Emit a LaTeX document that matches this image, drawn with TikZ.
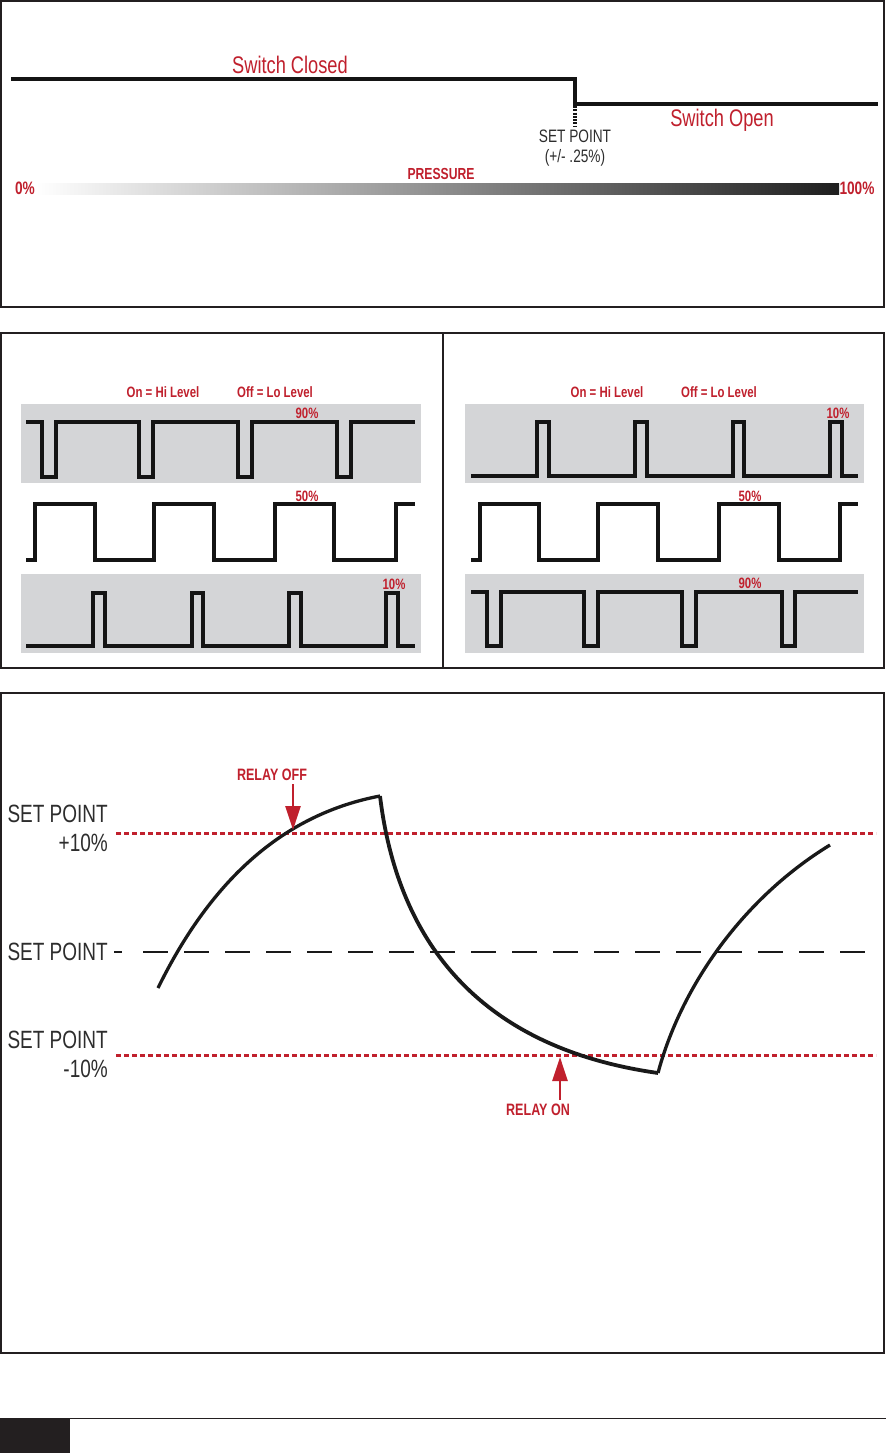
\documentclass[tikz,border=0pt]{standalone}
\usepackage{fontspec}
\newfontfamily\cond[FakeStretch=0.76]{Liberation Sans}
\usetikzlibrary{arrows.meta}
\definecolor{myred}{RGB}{192,32,45}
\definecolor{frame}{RGB}{35,31,32}
\definecolor{boxgray}{RGB}{212,213,215}
\definecolor{txtgray}{RGB}{45,45,45}
\tikzset{
  panel/.style={draw=frame, line width=2pt},
  wave/.style={line width=3.6pt, line join=miter, black!92},
  redlbl/.style={text=myred, font=\cond\bfseries\fontsize{15}{15}\selectfont, inner sep=0pt},
  graylbl/.style={text=txtgray, font=\cond\fontsize{25}{28}\selectfont, inner sep=0pt, align=right},
  reddots/.style={myred, line width=3pt, dash pattern=on 5pt off 3pt},
  blackdash/.style={black!90, line width=2.8pt, dash pattern=on 25pt off 16pt},
  curve/.style={black!90, line width=3.3pt, line join=miter},
  relayarrow/.style={myred, line width=2.6pt, -{Triangle[length=24pt,width=15pt]}}
}
\begin{document}
\begin{tikzpicture}[x=1pt,y=-1pt]
\useasboundingbox (0,0) rectangle (886,1453);
\fill[white] (0,0) rectangle (886,1453);

% ---------- top panel ----------
\draw[panel] (1,1) rectangle (884,307);
\draw[line width=4pt, black!92, line join=miter] (11,79) -- (575,79) -- (575,104) -- (878,104);
\draw[line width=3.5pt, black!92, dash pattern=on 2pt off 1.3pt] (575,106) -- (575,127);
\node[text=myred, font=\cond\fontsize{24}{24}\selectfont, inner sep=0pt] (sc) at (290,65) {Switch Closed};
\node[text=myred, font=\cond\fontsize{24}{24}\selectfont, inner sep=0pt] (so) at (722,120) {Switch Open};
\node[text=txtgray, font=\cond\fontsize{18}{20}\selectfont, inner sep=0pt, align=center] (sp) at (575,148) {SET POINT\\(+/- .25\%)};
\node[redlbl, font=\cond\bfseries\fontsize{16}{16}\selectfont] (pr) at (441,174) {PRESSURE};
\shade[left color=white, right color=black!88] (36,183) rectangle (839,194);
\node[redlbl, font=\cond\bfseries\fontsize{18}{18}\selectfont] (p0) at (25,188) {0\%};
\node[redlbl, font=\cond\bfseries\fontsize{18}{18}\selectfont] (p100) at (857,188) {100\%};

% ---------- middle panel ----------
\draw[panel] (1,333) rectangle (884,668);
\draw[panel] (443,333) -- (443,668);

% left half
\node[redlbl] (lon) at (163,392) {On = Hi Level};
\node[redlbl] (loff) at (275,392) {Off = Lo Level};
\fill[boxgray] (21,404) rectangle (421,483);
\fill[boxgray] (21,574) rectangle (421,653);
\draw[wave] (26,422) -- (42,422) -- (42,477) -- (56,477) -- (56,422) -- (139,422) -- (139,477) -- (153,477) -- (153,422) -- (238,422) -- (238,477) -- (252,477) -- (252,422) -- (337,422) -- (337,477) -- (351,477) -- (351,422) -- (415,422);
\draw[wave] (26,560) -- (35,560) -- (35,504) -- (95,504) -- (95,560) -- (154,560) -- (154,504) -- (214,504) -- (214,560) -- (275,560) -- (275,504) -- (334,504) -- (334,560) -- (396,560) -- (396,504) -- (415,504);
\draw[wave] (26,646) -- (93,646) -- (93,593) -- (105,593) -- (105,646) -- (192,646) -- (192,593) -- (203,593) -- (203,646) -- (289,646) -- (289,593) -- (301,593) -- (301,646) -- (386,646) -- (386,593) -- (398,593) -- (398,646) -- (415,646);
\node[redlbl] (l90) at (307,413) {90\%};
\node[redlbl] (l50) at (307,496) {50\%};
\node[redlbl] (l10) at (394,584) {10\%};

% right half
\node[redlbl] (ron) at (607,392) {On = Hi Level};
\node[redlbl] (roff) at (719,392) {Off = Lo Level};
\fill[boxgray] (465,404) rectangle (864,483);
\fill[boxgray] (465,574) rectangle (864,653);
\draw[wave] (471,476) -- (537,476) -- (537,422) -- (549,422) -- (549,476) -- (635,476) -- (635,422) -- (647,422) -- (647,476) -- (733,476) -- (733,422) -- (744,422) -- (744,476) -- (830,476) -- (830,422) -- (842,422) -- (842,476) -- (858,476);
\draw[wave] (471,560) -- (480,560) -- (480,504) -- (539,504) -- (539,560) -- (598,560) -- (598,504) -- (658,504) -- (658,560) -- (719,560) -- (719,504) -- (779,504) -- (779,560) -- (840,560) -- (840,504) -- (858,504);
\draw[wave] (471,592) -- (487,592) -- (487,646) -- (501,646) -- (501,592) -- (584,592) -- (584,646) -- (598,646) -- (598,592) -- (682,592) -- (682,646) -- (696,646) -- (696,592) -- (782,592) -- (782,646) -- (795,646) -- (795,592) -- (858,592);
\node[redlbl] (r10) at (838,413) {10\%};
\node[redlbl] (r50) at (750,496) {50\%};
\node[redlbl] (r90) at (750,583) {90\%};

% ---------- bottom panel ----------
\draw[panel] (1,693) rectangle (884,1353);
\node[graylbl, anchor=east] (sp1) at (108,814) {SET POINT};
\node[graylbl, anchor=east] (sp1b) at (108,843) {+10\%};
\node[graylbl, anchor=east] (sp2) at (108,952) {SET POINT};
\node[graylbl, anchor=east] (sp3) at (108,1040) {SET POINT};
\node[graylbl, anchor=east] (sp3b) at (108,1069) {-10\%};

\coordinate (hiL) at (116,833);
\coordinate (hiR) at (876,833);
\coordinate (loL) at (116,1055);
\coordinate (loR) at (876,1055);
\draw[reddots] (hiL) -- (hiR);
\draw[reddots] (loL) -- (loR);
\coordinate (midA) at (114,952);
\coordinate (midB) at (122,952);
\coordinate (midL) at (143,952);
\coordinate (midR) at (866,952);
\draw[black!90, line width=2.8pt] (midA) -- (midB);
\draw[blackdash] (midL) -- (midR);

\coordinate (c0) at (158,988);
\coordinate (c1) at (380,796);
\coordinate (c2) at (658,1073);
\coordinate (c3) at (830,845);
\draw[curve] (c0) .. controls (212,878) and (285,814) .. (c1);
\draw[curve, line width=3.8pt] (c1) .. controls (395,920) and (460,1045) .. (c2);
\draw[curve] (c2) .. controls (680,990) and (740,900) .. (c3);

\node[redlbl, font=\cond\bfseries\fontsize{16.5}{16.5}\selectfont] (roffl) at (272,775) {RELAY OFF};
\coordinate (roffs) at (293,784);
\coordinate (roffe) at (293,830);
\draw[relayarrow] (roffs) -- (roffe);
\node[redlbl, font=\cond\bfseries\fontsize{16.5}{16.5}\selectfont] (ronl) at (538,1110) {RELAY ON};
\coordinate (rons) at (560,1100);
\coordinate (rone) at (560,1057);
\draw[relayarrow] (rons) -- (rone);

% ---------- footer ----------
\draw[frame, line width=1.3pt] (0,1418.5) -- (886,1418.5);
\fill[frame] (0,1418) rectangle (70,1453);
\end{tikzpicture}
\end{document}
